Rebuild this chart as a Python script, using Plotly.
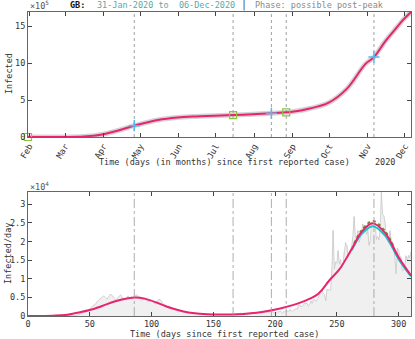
import numpy as np
import pandas as pd
import plotly.graph_objects as go

# ---- data ----
start = pd.Timestamp("2020-01-31")

# daily reported cases (raw, gray), day 0 = 31-Jan-2020
raw_daily = [
    2, 0, 0, 0, 0, 0, 0, 1, 0, 0, 4, 0, 0, 1, 0, 0, 0, 0, 0, 0,
    0, 0, 0, 0, 4, 0, 0, 3, 2, 5,
    12, 13, 11, 34, 29, 48, 45, 46, 65, 50,
    300, 420, 380, 650, 700, 900, 1100, 1000, 1350, 1600,
    1900, 2200, 2600, 2900, 3100, 3300, 3900, 4300, 4500, 4800,
    5000, 5400, 5200, 4700, 4500, 5100, 5700, 5900, 5500, 5200,
    4800, 4300, 4500, 5000, 5500, 5700, 5100, 4600, 4300, 4700,
    5100, 5400, 5000, 4600, 4500, 4900, 5300, 5600, 5700, 5200,
    4700, 4400, 4200, 4600, 5000, 4500, 4100, 3800, 4100, 4500,
    4200, 3800, 3500, 3300, 3700, 4200, 4500, 4400, 3900, 3400,
    3000, 2800, 2600, 2500, 2700, 2500, 2200, 2000, 1900, 1800,
    1700, 1600, 1500, 1450, 1300, 1250, 1200, 1100, 1050, 1000,
    950, 900, 850, 800, 750, 700, 720, 680, 650, 600,
    580, 560, 600, 540, 500, 520, 480, 470, 500, 450,
    440, 420, 450, 400, 380, 420, 410, 390, 430, 400,
    380, 410, 420, 390, 370, 400, 430, 450, 420, 410,
    730, 580, 770, 560, 770, 770, 770, 690, 580, 760,
    760, 850, 880, 940, 740, 940, 940, 950, 890, 870,
    760, 1060, 740, 1000, 1010, 840, 1440, 1040, 1070, 1000,
    710, 810, 1180, 1030, 1290, 1040, 850, 1180, 1050, 1520,
    1300, 1100, 1700, 1400,
    1295, 1508, 1735, 1940, 1813, 2988, 2948, 2460, 2659, 2919,
    3539, 3497, 3330, 2621, 3105, 3991, 3395, 4322, 4422, 3899,
    4368, 4926, 6178, 6634, 6874, 6042, 5693, 4044, 7143, 7108,
    6914, 6968, 12872, 22961, 12594, 14542, 14162, 17540, 13864, 15166,
    12872, 13972, 17234, 19724, 18980, 15650, 16171, 16982, 18804, 21331,
    26688, 21242, 20530, 23012, 19790, 20890, 22885, 24701, 23065, 24405,
    21915,
    23254, 18950, 20018, 25177, 24141, 23287, 24957, 20572, 21350, 20412,
    22950, 33470, 27301, 26860, 24962, 21363, 20051, 19609, 22915, 20252,
    19875, 18662, 15450, 11299, 18213, 17555, 16022, 15871, 12155, 12330,
    13430, 16170, 14879, 16298, 15539, 17272,
]

# fitted daily curve (pink)
fit_days = [0, 10, 20, 30, 40, 50, 60, 70, 80, 87, 95, 105, 115, 125, 135, 145,
            155, 165, 175, 185, 195, 205, 215, 225, 235, 244, 252, 262, 270,
            279, 289, 300, 310]
fit_vals = [0, 20, 80, 250, 900, 1600, 2700, 3900, 4700, 4950, 4600, 3500, 2200,
            1300, 750, 500, 400, 400, 550, 850, 1400, 2100, 3000, 4200, 6000,
            9600, 12500, 18000, 22600, 24900, 22300, 15800, 10900]

# alternative fits near the second peak
alt1_days = [262, 270, 279, 289, 300, 310]
alt1_vals = [17600, 22000, 24100, 21600, 15200, 10600]
alt2_days = [264, 270, 279, 289, 296]
alt2_vals = [19500, 23000, 25500, 22800, 18500]

# cumulative fit (top panel)
cum_days = [0, 15, 30, 45, 60, 70, 86, 91, 105, 121, 136, 151, 166, 182, 197,
            209, 214, 228, 243, 258, 273, 280, 289, 296, 304, 310]
cum_vals = [0, 0, 1000, 7000, 35000, 75000, 153000, 175000, 230000, 264000,
            278000, 286000, 297000, 308000, 320000, 333000, 340000, 385000,
            460000, 650000, 985000, 1080000, 1290000, 1430000, 1590000, 1690000]

event_days = [86, 166, 197, 209, 280]
square_days = [0, 166, 209]
square_vals = [0, 297000, 333000]
plus_days = [86, 197, 280]
plus_vals = [153000, 320000, 1080000]

month_labels = ["Feb", "Mar", "Apr", "May", "Jun", "Jul", "Aug", "Sep", "Oct", "Nov", "Dec"]

# ---- layout helpers ----
W, H = 415, 339
def fx(px):
    return px / W
def fy(py):
    return 1 - py / H

PINK = "#e8246f"
FONT = "DejaVu Sans Mono"

def d2t(days):
    return [start + pd.Timedelta(days=d) for d in days]

fig = go.Figure()

# top panel
fig.add_trace(go.Scatter(x=d2t(cum_days), y=cum_vals, mode="lines", line_shape="spline",
                         line=dict(color="rgba(160,160,160,0.45)", width=5),
                         xaxis="x", yaxis="y", hoverinfo="skip"))
fig.add_trace(go.Scatter(x=d2t(cum_days), y=cum_vals, mode="lines", line_shape="spline",
                         line=dict(color=PINK, width=2), xaxis="x", yaxis="y"))
fig.add_trace(go.Scatter(x=d2t(square_days), y=square_vals, mode="markers",
                         marker=dict(symbol="square-open", size=7, color="#8cc63f",
                                     line=dict(width=1.2)),
                         xaxis="x", yaxis="y", cliponaxis=False))
fig.add_trace(go.Scatter(x=d2t(plus_days), y=plus_vals, mode="markers",
                         marker=dict(symbol="cross-thin-open", size=8, color="#4dbeee",
                                     line=dict(width=1.5, color="#4dbeee")),
                         xaxis="x", yaxis="y"))

# bottom panel
days = np.arange(len(raw_daily))
fig.add_trace(go.Bar(x=days, y=raw_daily, width=0.5, marker_color="#f0f0f0",
                     marker_line_width=0, xaxis="x2", yaxis="y2"))
fig.add_trace(go.Scatter(x=days, y=raw_daily, mode="lines",
                         line=dict(color="#c8c8c8", width=0.8), xaxis="x2", yaxis="y2"))
fig.add_trace(go.Scatter(x=alt2_days, y=alt2_vals, mode="lines", line_shape="spline",
                         line=dict(color="#7a8a2a", width=2, dash="dot"), xaxis="x2", yaxis="y2"))
fig.add_trace(go.Scatter(x=alt1_days, y=alt1_vals, mode="lines", line_shape="spline",
                         line=dict(color="#20c0c8", width=1.8), xaxis="x2", yaxis="y2"))
fig.add_trace(go.Scatter(x=fit_days, y=fit_vals, mode="lines", line_shape="spline",
                         line=dict(color=PINK, width=2), xaxis="x2", yaxis="y2"))

# event lines
for d in event_days:
    t = start + pd.Timedelta(days=d)
    fig.add_shape(type="line", xref="x", yref="y domain", x0=t, x1=t, y0=0, y1=1,
                  line=dict(color="#a0a0a0", width=1, dash="dot"), layer="below")
    fig.add_shape(type="line", xref="x2", yref="y2 domain", x0=d, x1=d, y0=0, y1=1,
                  line=dict(color="#999999", width=0.8, dash="dashdot"), layer="above")

axis_common = dict(showline=True, linecolor="#666", linewidth=1, mirror="ticks",
                   ticks="inside", ticklen=4, tickcolor="#444", showgrid=False,
                   zeroline=False, automargin=False,
                   tickfont=dict(family=FONT, size=8.5, color="#333"))

month_ticks = [pd.Timestamp(2020, m, 1) for m in range(2, 13)]

fig.update_layout(
    width=W, height=H, margin=dict(l=0, r=0, t=0, b=0),
    paper_bgcolor="white", plot_bgcolor="white", showlegend=False,
    xaxis=dict(domain=[fx(28), fx(411)], anchor="y", type="date",
               range=[start, start + pd.Timedelta(days=310)],
               tickvals=month_ticks, ticktext=month_labels, tickangle=-60,
               **axis_common),
    yaxis=dict(domain=[fy(137), fy(12)], anchor="x", range=[0, 1690000],
               tickvals=[0, 500000, 1000000, 1500000], ticktext=["0", "5", "10", "15"],
               **axis_common),
    xaxis2=dict(domain=[fx(28), fx(411)], anchor="y2", range=[0, 310],
                tickvals=[0, 50, 100, 150, 200, 250, 300], **axis_common),
    yaxis2=dict(domain=[fy(316), fy(192)], anchor="x2", range=[0, 33300],
                tickvals=[0, 5000, 10000, 15000, 20000, 25000, 30000],
                ticktext=["0", "0.5", "1", "1.5", "2", "2.5", "3"], **axis_common),
)

def note(text, x, y, size=8.5, color="#333", anchor="center", angle=0):
    fig.add_annotation(text=text, x=fx(x), y=fy(y), xref="paper", yref="paper",
                       showarrow=False, xanchor=anchor, yanchor="middle", textangle=angle,
                       font=dict(family=FONT, size=size, color=color))

# title pieces
note("<b>GB:</b>", 68, 5, color="#111", anchor="left")
note("31-Jan-2020 to  06-Dec-2020", 95, 5, color="#5ba9a6", anchor="left")
note("|", 239, 5, size=10, color="#444", anchor="left")
note("Phase: possible post-peak", 253, 5, color="#8a8a8a", anchor="left")

# exponents
note("\u00d710<sup>5</sup>", 28, 5, color="#555", anchor="left")
note("\u00d710<sup>4</sup>", 28, 186, color="#555", anchor="left")

# axis titles
note("Infected", 9, 74, angle=-90)
note("Time (days (in months) since first reported case)", 224, 162)
note("2020", 385, 162)
note("Infected/day", 8, 254, angle=-90)
note("Time (days since first reported case)", 224, 333.5)

# the page body has a default 8px margin; drop it so the figure fills the window
fig.write_html("out.html", config={"displayModeBar": False},
               post_script="document.body.style.margin='0';document.body.style.overflow='hidden';")
